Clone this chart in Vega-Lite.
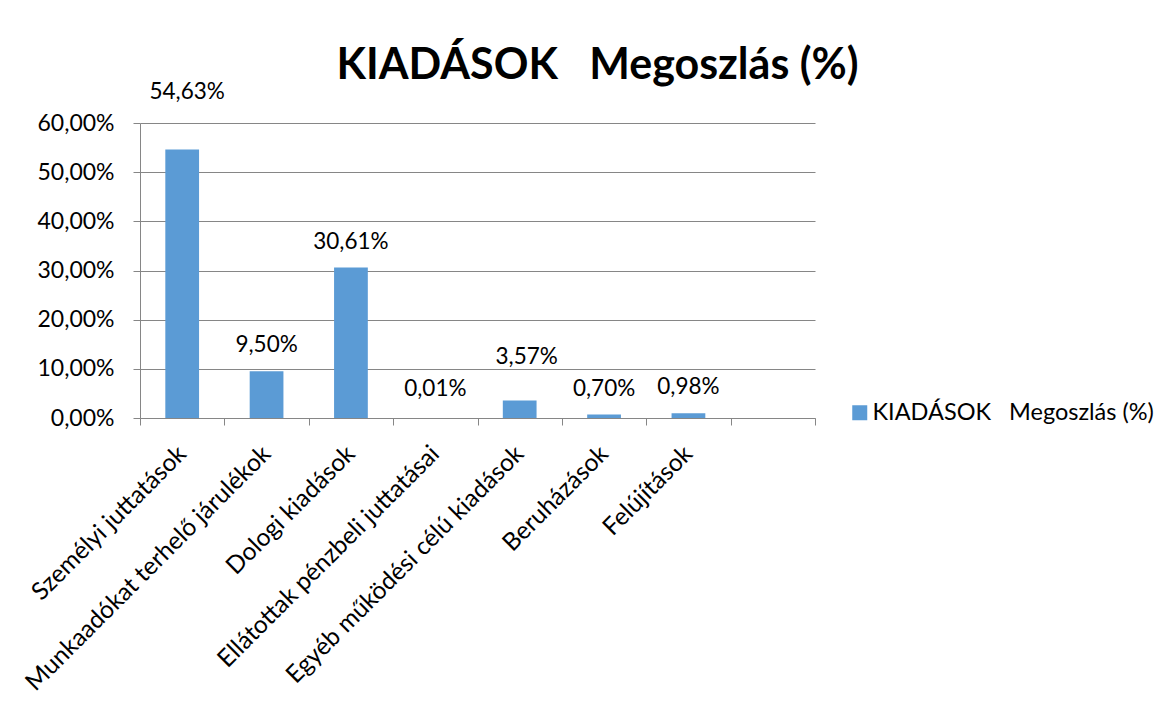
{
  "$schema": "https://vega.github.io/schema/vega-lite/v6.json",
  "width": 675,
  "height": 295,
  "autosize": {"type": "none"},
  "padding": {"left": 140, "top": 123, "right": 361, "bottom": 295},
  "background": "white",
  "config": {
    "font": "Lato",
    "view": {"stroke": null},
    "locale": {"number": {"decimal": ",", "thousands": " ", "grouping": [3], "currency": ["", " Ft"]}}
  },
  "title": {
    "text": "KIADÁSOK\u00a0\u00a0\u00a0Megoszlás (%)",
    "fontSize": 43,
    "fontWeight": "bold",
    "font": "Lato",
    "color": "black",
    "anchor": "middle",
    "dx": 120,
    "offset": -7
  },
  "data": {
    "values": [
      {"kategoria": "Személyi juttatások", "ertek": 0.5463},
      {"kategoria": "Munkaadókat terhelő járulékok", "ertek": 0.095},
      {"kategoria": "Dologi kiadások", "ertek": 0.3061},
      {"kategoria": "Ellátottak pénzbeli juttatásai", "ertek": 0.0001},
      {"kategoria": "Egyéb működési célú kiadások", "ertek": 0.0357},
      {"kategoria": "Beruházások", "ertek": 0.007},
      {"kategoria": "Felújítások", "ertek": 0.0098},
      {"kategoria": " ", "ertek": null}
    ]
  },
  "encoding": {
    "x": {
      "field": "kategoria",
      "type": "nominal",
      "sort": null,
      "scale": {
        "domain": ["Személyi juttatások", "Munkaadókat terhelő járulékok", "Dologi kiadások", "Ellátottak pénzbeli juttatásai", "Egyéb működési célú kiadások", "Beruházások", "Felújítások", " "],
        "paddingInner": 0,
        "paddingOuter": 0
      },
      "axis": {
        "title": null,
        "tickBand": "extent",
        "labelAngle": -45,
        "labelAlign": "right",
        "labelBaseline": "middle",
        "labelFontSize": 24.5,
        "labelColor": "black",
        "labelFont": "Lato",
        "labelLimit": 0,
        "domainColor": "#868686",
        "tickColor": "#868686",
        "tickSize": 7,
        "labelPadding": 25,
        "grid": false
      }
    },
    "y": {
      "field": "ertek",
      "type": "quantitative",
      "scale": {"domain": [0, 0.6], "nice": false},
      "axis": {
        "title": null,
        "values": [0, 0.1, 0.2, 0.3, 0.4, 0.5, 0.6],
        "format": ".2%",
        "labelFontSize": 23,
        "labelColor": "black",
        "labelFont": "Lato",
        "domainColor": "#868686",
        "tickColor": "#868686",
        "gridColor": "#868686",
        "tickSize": 7,
        "labelPadding": 19
      }
    }
  },
  "layer": [
    {
      "mark": {"type": "bar", "width": {"band": 0.4}},
      "encoding": {
        "color": {
          "datum": "KIADÁSOK\u00a0\u00a0\u00a0Megoszlás (%)",
          "scale": {"range": ["#5B9BD5"]},
          "legend": {
            "title": null,
            "orient": "none",
            "legendX": 708,
            "legendY": 278,
            "symbolType": "square",
            "symbolSize": 225,
            "symbolStrokeWidth": 0,
            "labelFontSize": 23.5,
            "labelFont": "Lato",
            "labelColor": "black",
            "labelLimit": 0,
            "labelOffset": 1,
            "padding": 0
          }
        }
      }
    },
    {
      "transform": [{"filter": "datum.ertek != null && datum.kategoria != 'Személyi juttatások' && datum.kategoria != 'Egyéb működési célú kiadások' && datum.kategoria != 'Ellátottak pénzbeli juttatásai'"}],
      "mark": {"type": "text", "baseline": "alphabetic", "dy": -19, "fontSize": 22.5, "color": "black"},
      "encoding": {"text": {"field": "ertek", "type": "quantitative", "format": ".2%"}}
    },
    {
      "transform": [{"filter": "datum.kategoria == 'Személyi juttatások'"}],
      "mark": {"type": "text", "baseline": "alphabetic", "dy": -50, "dx": 5, "fontSize": 22.5, "color": "black"},
      "encoding": {"text": {"field": "ertek", "type": "quantitative", "format": ".2%"}}
    },
    {
      "transform": [{"filter": "datum.kategoria == 'Ellátottak pénzbeli juttatásai'"}],
      "mark": {"type": "text", "baseline": "alphabetic", "dy": -22, "fontSize": 22.5, "color": "black"},
      "encoding": {"text": {"field": "ertek", "type": "quantitative", "format": ".2%"}}
    },
    {
      "transform": [{"filter": "datum.kategoria == 'Egyéb működési célú kiadások'"}],
      "mark": {"type": "text", "baseline": "alphabetic", "dy": -36, "dx": 7, "fontSize": 22.5, "color": "black"},
      "encoding": {"text": {"field": "ertek", "type": "quantitative", "format": ".2%"}}
    }
  ]
}
